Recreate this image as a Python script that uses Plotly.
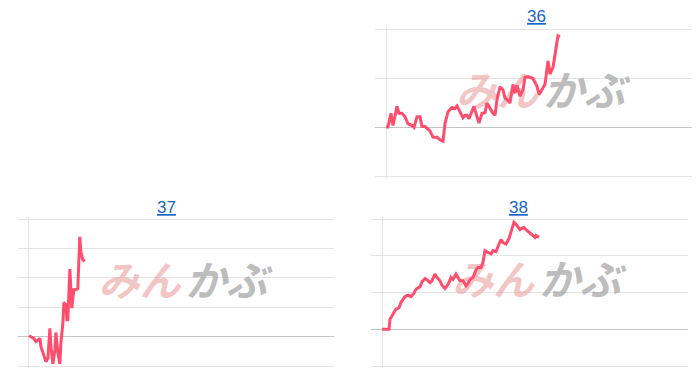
import plotly.graph_objects as go

# Chart 36
x36 = [0, 2, 5, 7, 11, 13, 16, 19, 22, 26, 28, 31, 34, 36, 39, 41, 44, 47, 51, 54, 57, 59, 62, 66, 69, 71,
       74, 77, 79, 81, 83, 86, 88, 91, 93, 96, 99, 101, 104, 107, 109, 111, 114, 117, 119, 121, 124, 127,
       129, 131, 134, 137, 139, 142, 147, 151, 153, 156, 159, 162, 164, 167, 169, 172, 174]
y36 = [0, 0, 2.8, 0.3, 4.2, 2.8, 2.8, 2.1, 0.7, 0.3, -0.1, 2.1, 2.1, 0.1, 0.1, -0.2, -0.8, -2.1, -2.1, -2.6,
       -2.9, 0.7, 3.1, 4.0, 3.8, 4.3, 3.1, 1.9, 2.4, 2.4, 1.7, 3.1, 4.2, 2.1, 0.8, 2.8, 2.9, 4.9, 3.8, 2.8,
       2.4, 5.6, 8.2, 7.6, 5.9, 5.6, 4.9, 8.7, 6.9, 8.5, 6.3, 7.6, 10.1, 10.3, 9.9, 8.3, 6.6, 7.6, 8.7,
       13.5, 10.8, 12.2, 14.6, 18.6, 18.4]

# Chart 37
x37 = [0, 2, 5, 7, 9, 11, 12, 15, 17, 19, 21, 22, 24, 26, 27, 29, 31, 32, 34, 35, 37, 38, 39, 41, 42, 43,
       45, 47, 49, 51, 52, 54, 56]
y37 = [0.3, 0, -0.6, -1.7, -1.1, -0.6, -3.4, -6.3, -8.5, -7.4, 2.8, -3.4, -9.3, -4.5, 1.4, -5.7, -9.3,
       -2.3, 4.5, 11.6, 10.8, 5.7, 5.7, 23.0, 13.6, 9.7, 15.9, 15.9, 16.3, 33.9, 29.0, 26.1, 25.6]

# Chart 38
x38 = [0, 7, 8, 11, 14, 17, 19, 23, 26, 29, 32, 34, 38, 40, 43, 45, 48, 50, 53, 55, 58, 60, 63, 65, 67,
       69, 71, 74, 76, 78, 81, 84, 86, 88, 91, 94, 96, 99, 101, 103, 106, 109, 111, 114, 117, 119, 121,
       124, 127, 129, 132, 134, 136, 138, 140, 142, 144, 148, 150, 153, 154, 157]
y38 = [0, 0, 2.7, 4.1, 5.5, 5.9, 7.3, 8.9, 9.3, 8.9, 9.8, 10.9, 11.6, 12.9, 13.8, 13.5, 12.7, 13.2, 15.0,
       14.1, 13.2, 12.0, 11.1, 11.8, 12.7, 14.1, 13.6, 15.0, 14.1, 13.2, 13.2, 11.8, 12.5, 13.5, 14.1,
       16.2, 16.8, 16.8, 18.2, 21.4, 20.9, 20.5, 21.4, 21.1, 23.2, 24.4, 23.6, 23.2, 24.7, 26.4, 29.1,
       28.6, 28.0, 27.1, 27.5, 27.7, 27.1, 26.2, 25.5, 25.0, 25.5, 25.0]

titles = ["36", "37", "38"]
title_px = [(536, 16), (166, 207), (518, 207)]
y_ranges = [(-10, 20), (-10, 40), (-10, 30)]
wm_y = [6.3, 17.3, 12.0]

LINE = "#ff4d6d"
GRID = "#e4e4e4"
BASE = "#c4c4c4"

W, H = 700, 378
# plot area boxes in pixels: (left, right, top, bottom) - gridline positions
boxes = [(375, 692, 29, 176), (18, 334, 219, 366), (371, 688, 219, 366)]
PAD = 2  # px of padding so edge gridlines are drawn

fig = go.Figure()
series = [(x36, y36), (x37, y37), (x38, y38)]
for i, ((xs, ys), (l, r, t, b)) in enumerate(zip(series, boxes)):
    ax = "" if i == 0 else str(i + 1)
    xa, ya = "x" + ax, "y" + ax
    fig.add_trace(go.Scatter(x=[111], y=[wm_y[i]], mode="text", text=["みん"],
                             textfont=dict(family="Noto Sans CJK JP", size=41, color="rgba(236,160,160,0.6)",
                                           weight="bold", style="italic"),
                             xaxis=xa, yaxis=ya, hoverinfo="skip", showlegend=False))
    fig.add_trace(go.Scatter(x=[198], y=[wm_y[i]], mode="text", text=["かぶ"],
                             textfont=dict(family="Noto Sans CJK JP", size=41, color="rgba(160,160,160,0.7)",
                                           weight="bold", style="italic"),
                             xaxis=xa, yaxis=ya, hoverinfo="skip", showlegend=False))
    fig.add_trace(go.Scatter(x=xs, y=ys, mode="lines", line=dict(color=LINE, width=3),
                             xaxis=xa, yaxis=ya, showlegend=False, hoverinfo="skip"))
    lo, hi = y_ranges[i]
    upp = (hi - lo) / (b - t)  # units per pixel
    fig.layout["xaxis" + ax] = dict(domain=[l / W, r / W], range=[-11, 306], showgrid=False,
                                    zeroline=True, zerolinecolor=GRID, zerolinewidth=1,
                                    showticklabels=False, ticks="", showline=False, anchor=ya, fixedrange=True)
    fig.layout["yaxis" + ax] = dict(domain=[1 - (b + PAD) / H, 1 - (t - PAD) / H],
                                    range=[lo - PAD * upp, hi + PAD * upp],
                                    dtick=10, tick0=0, showgrid=True, gridcolor=GRID, gridwidth=1,
                                    zeroline=True, zerolinecolor=BASE, zerolinewidth=1.2,
                                    showticklabels=False, ticks="", showline=False, anchor=xa, fixedrange=True)
    tx, ty = title_px[i]
    fig.add_annotation(x=tx / W, y=1 - ty / H, xref="paper", yref="paper", xanchor="center", yanchor="middle",
                       text="<u>" + titles[i] + "</u>", showarrow=False,
                       font=dict(family="Liberation Sans, Arial", size=17, color="#1a66c8"))

fig.update_layout(width=W, height=H, margin=dict(l=0, r=0, t=0, b=0),
                  paper_bgcolor="white", plot_bgcolor="white")
fig.write_html("out.html")
